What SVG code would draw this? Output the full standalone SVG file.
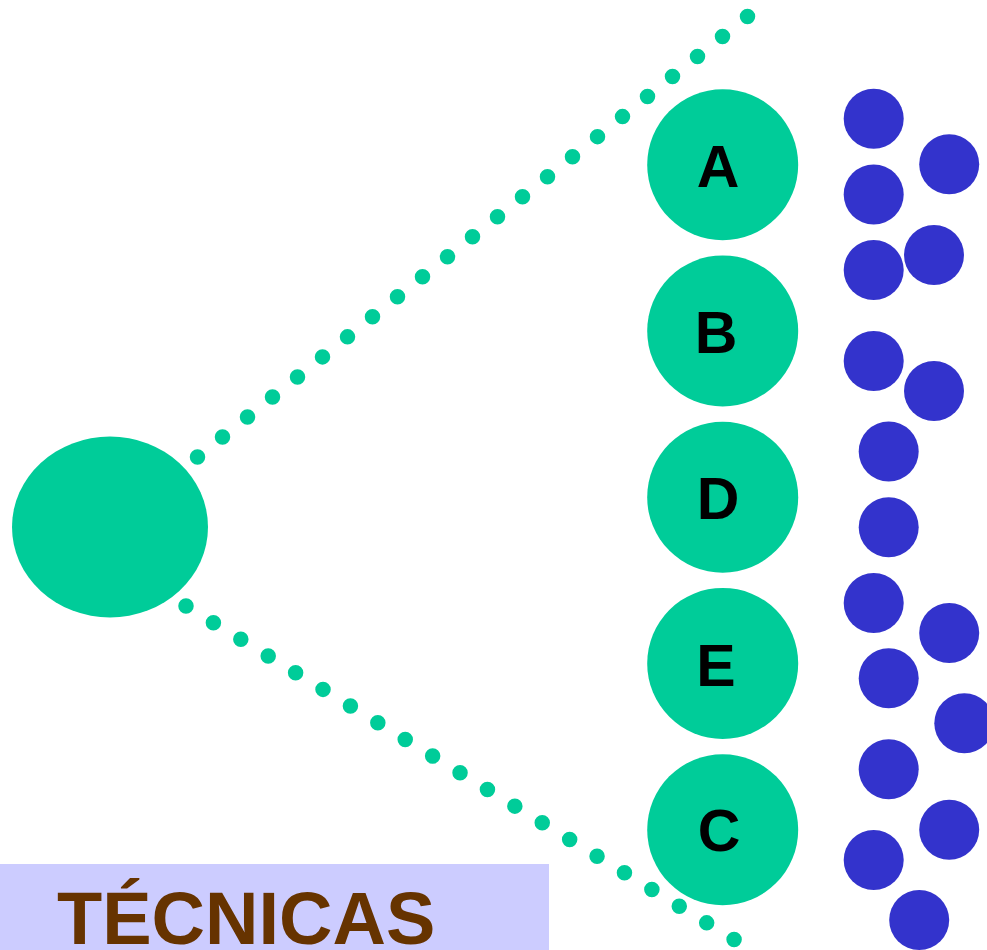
<svg xmlns="http://www.w3.org/2000/svg" width="987" height="950" viewBox="0 0 987 950">
<style>
.g{fill:#00CC99}
.b{fill:#3333CC}
.dot{fill:none;stroke:#00CC99;stroke-width:15.5;stroke-linecap:round}
.lbl{font-family:"Liberation Sans",Arial,sans-serif;font-weight:bold;font-size:59px;fill:#000;text-anchor:middle}
.title{font-family:"Liberation Sans",Arial,sans-serif;font-weight:bold;font-size:74px;fill:#663300}
</style>
<rect width="987" height="950" fill="#fff"/>
<g id="connectors">
<line class="dot" x1="197.5" y1="457" x2="747.97" y2="16.12" stroke-dasharray="0 32.03"/>
<line class="dot" x1="186" y1="606" x2="734.5" y2="939.8" stroke-dasharray="0 32.08"/>
</g>
<g id="root"><ellipse class="g" cx="110" cy="527" rx="98" ry="90.5"/></g>
<g id="nodeA"><circle class="g" cx="722.7" cy="164.7" r="75.5"/><text class="lbl" x="718" y="186.5">A</text></g>
<g id="nodeB"><circle class="g" cx="722.7" cy="330.9" r="75.5"/><text class="lbl" x="716" y="352.7">B</text></g>
<g id="nodeD"><circle class="g" cx="722.7" cy="497.2" r="75.5"/><text class="lbl" x="718" y="519.2">D</text></g>
<g id="nodeE"><circle class="g" cx="722.7" cy="663.4" r="75.5"/><text class="lbl" x="716" y="685.6">E</text></g>
<g id="nodeC"><circle class="g" cx="722.7" cy="829.7" r="75.5"/><text class="lbl" x="719" y="850.5">C</text></g>
<g id="dots">
<circle class="b" cx="873.7" cy="118.8" r="30"/>
<circle class="b" cx="949.2" cy="164.3" r="30"/>
<circle class="b" cx="873.7" cy="194.5" r="30"/>
<circle class="b" cx="934" cy="255" r="30"/>
<circle class="b" cx="873.7" cy="270" r="30"/>
<circle class="b" cx="873.7" cy="361" r="30"/>
<circle class="b" cx="934" cy="391" r="30"/>
<circle class="b" cx="888.7" cy="451.5" r="30"/>
<circle class="b" cx="888.7" cy="527.3" r="30"/>
<circle class="b" cx="873.7" cy="603" r="30"/>
<circle class="b" cx="949.2" cy="633" r="30"/>
<circle class="b" cx="888.7" cy="678.3" r="30"/>
<circle class="b" cx="964.3" cy="723.3" r="30"/>
<circle class="b" cx="888.7" cy="769.3" r="30"/>
<circle class="b" cx="949.2" cy="829.7" r="30"/>
<circle class="b" cx="873.7" cy="860" r="30"/>
<circle class="b" cx="919.2" cy="920" r="30"/>
</g>
<g id="label">
<rect x="0" y="864" width="549" height="86" fill="#CCCCFF"/>
<text class="title" x="57" y="944">TÉCNICAS</text>
</g>
</svg>
